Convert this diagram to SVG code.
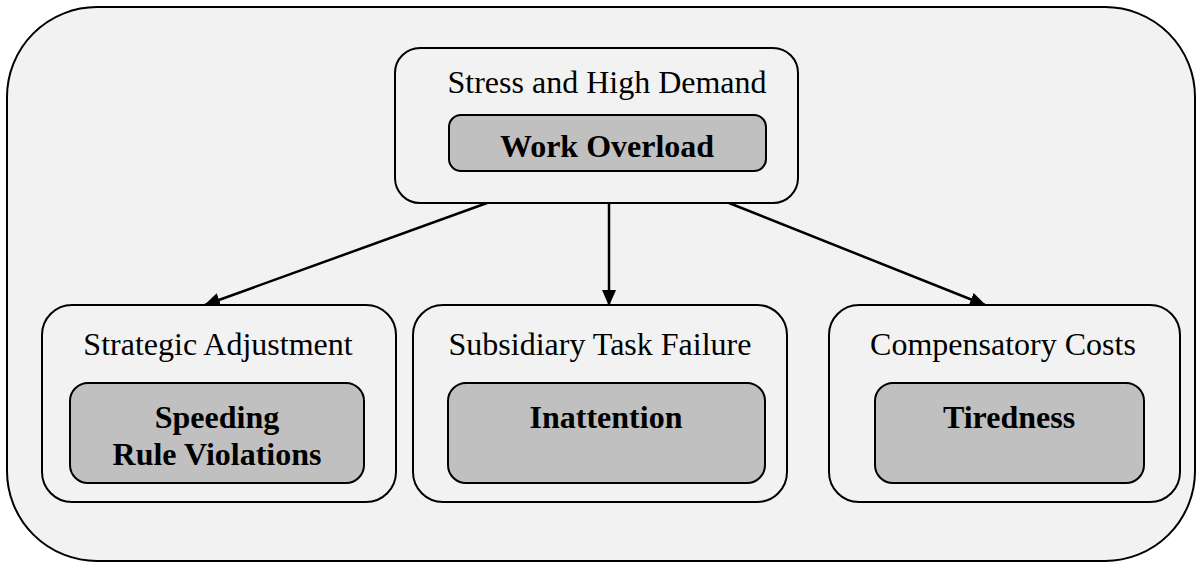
<svg xmlns="http://www.w3.org/2000/svg" width="1201" height="563" viewBox="0 0 1201 563">
<defs>
<style>
.outer{fill:#f2f2f2;stroke:#000;stroke-width:2}
.box{fill:#f2f2f2;stroke:#000;stroke-width:2}
.inner{fill:#c0c0c0;stroke:#000;stroke-width:2}
.t{font-family:"Liberation Serif","Times New Roman",serif;font-size:32px;fill:#000;text-anchor:middle}
.b{font-family:"Liberation Serif","Times New Roman",serif;font-size:32px;font-weight:bold;fill:#000;text-anchor:middle}
.edge{stroke:#000;stroke-width:2.5;fill:none;marker-end:url(#ah)}
</style>
<marker id="ah" markerWidth="16" markerHeight="14" refX="15" refY="7" orient="auto" markerUnits="userSpaceOnUse">
<path d="M0,0 L16,7 L0,14 Z" fill="#000"/>
</marker>
</defs>
<rect class="outer" x="7" y="7" width="1188" height="554" rx="90" ry="90"/>
<g id="connectors">
<line class="edge" x1="487" y1="203" x2="205" y2="305"/>
<line class="edge" x1="609" y1="203" x2="609" y2="305"/>
<line class="edge" x1="729" y1="203" x2="985" y2="305"/>
</g>
<g id="stress">
<rect class="box" x="395" y="48" width="403" height="155" rx="25"/>
<text class="t" x="607" y="93">Stress and High Demand</text>
<rect class="inner" x="449" y="115" width="317" height="56" rx="12"/>
<text class="b" x="607" y="157">Work Overload</text>
</g>
<g id="strategic">
<rect class="box" x="42" y="305" width="354" height="197" rx="30"/>
<text class="t" x="218" y="355">Strategic Adjustment</text>
<rect class="inner" x="70" y="383" width="294" height="100" rx="18"/>
<text class="b" x="217" y="428">Speeding</text>
<text class="b" x="217" y="465">Rule Violations</text>
</g>
<g id="subsidiary">
<rect class="box" x="413" y="305" width="374" height="197" rx="30"/>
<text class="t" x="600" y="355">Subsidiary Task Failure</text>
<rect class="inner" x="448" y="383" width="317" height="100" rx="18"/>
<text class="b" x="606" y="428">Inattention</text>
</g>
<g id="compensatory">
<rect class="box" x="829" y="305" width="351" height="197" rx="30"/>
<text class="t" x="1003" y="355">Compensatory Costs</text>
<rect class="inner" x="875" y="383" width="269" height="100" rx="18"/>
<text class="b" x="1009" y="428">Tiredness</text>
</g>
</svg>
